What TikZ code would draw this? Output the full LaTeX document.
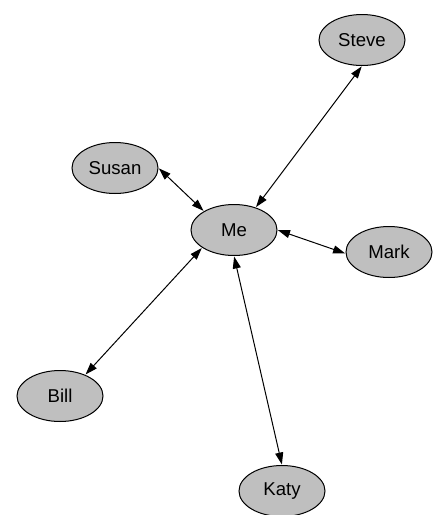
\documentclass[tikz,border=0pt]{standalone}
\usepackage{fontspec}
\setmainfont{Liberation Sans}
\usetikzlibrary{shapes.geometric,arrows.meta}
\begin{document}
\begin{tikzpicture}[x=1pt,y=-1pt,
  person/.style={ellipse,draw=black,fill=black!25,line width=1pt,minimum width=86pt,minimum height=51pt,inner sep=0pt,font=\fontsize{18.6}{20}\selectfont},
  link/.style={line width=1pt,{Triangle[length=12pt,width=8pt]}-{Triangle[length=12pt,width=8pt]},shorten <=0.5pt,shorten >=0.5pt}]
\useasboundingbox (0,0) rectangle (432,515);
\node[person] (steve) at (362,40) {Steve};
\node[person] (susan) at (115,168) {Susan};
\node[person] (me) at (234,230) {Me};
\node[person] (mark) at (389,252) {Mark};
\node[person] (bill) at (60,396) {Bill};
\node[person] (katy) at (282,491) {Katy};
\draw[link] (me.46) -- (steve.south);
\draw[link] (me.148) -- (susan.east);
\draw[link] (me.east) -- (mark.182);
\draw[link] (me.209) -- (bill.40);
\draw[link] (me.south) -- (katy.north);
\end{tikzpicture}
\end{document}
